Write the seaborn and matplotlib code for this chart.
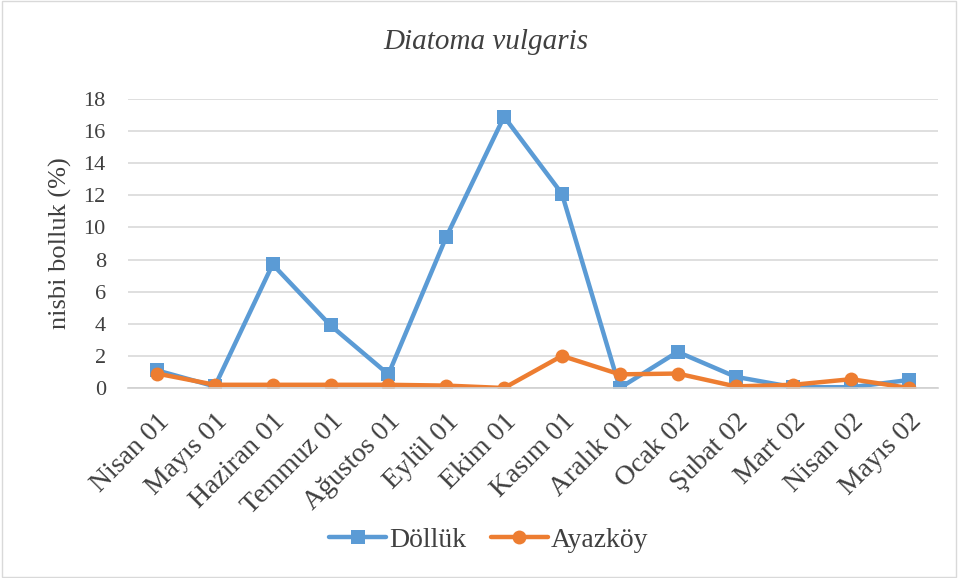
import pandas as pd
import matplotlib.pyplot as plt
import seaborn as sns

months = ['Nisan 01', 'Mayıs 01', 'Haziran 01', 'Temmuz 01', 'Ağustos 01', 'Eylül 01',
          'Ekim 01', 'Kasım 01', 'Aralık 01', 'Ocak 02', 'Şubat 02', 'Mart 02',
          'Nisan 02', 'Mayıs 02']
dollük = [1.1, 0.1, 7.7, 3.9, 0.85, 9.4, 16.9, 12.1, 0.0, 2.25, 0.7, 0.05, 0.05, 0.5]
ayazkoy = [0.9, 0.2, 0.2, 0.2, 0.2, 0.15, 0.0, 2.0, 0.85, 0.9, 0.1, 0.2, 0.55, 0.0]

sns.set_style('white')
plt.rcParams['font.family'] = ['Liberation Serif', 'DejaVu Serif']

df = pd.DataFrame({
    'ay': list(range(len(months))) * 2,
    'deger': dollük + ayazkoy,
    'istasyon': ['Döllük'] * len(months) + ['Ayazköy'] * len(months),
})

fig = plt.figure(figsize=(9.58, 5.78), dpi=100)
ax = fig.add_axes([128 / 958, 1 - 388 / 578, 810 / 958, 289 / 578])

palette = {'Döllük': '#5b9bd5', 'Ayazköy': '#ed7d31'}
sns.lineplot(data=df, x='ay', y='deger', hue='istasyon', style='istasyon',
             markers={'Döllük': 's', 'Ayazköy': 'o'}, dashes=False,
             palette=palette, linewidth=3.2, markersize=10, markeredgewidth=0,
             sort=False, ax=ax)

ax.set_xlim(-0.5, len(months) - 0.5)
ax.set_ylim(0, 18)
ax.set_yticks(range(0, 19, 2))
ax.set_xticks(range(len(months)))
ax.set_xticklabels(months, rotation=45, ha='right', rotation_mode='anchor')
ax.set_xticks([i - 0.5 for i in range(len(months) + 1)], minor=True)
ax.tick_params(axis='x', which='major', length=0, labelsize=20, colors='#404040', pad=15)
ax.tick_params(axis='x', which='minor', length=6, color='#d0d0d0', width=1)
ax.tick_params(axis='y', length=0, labelsize=16, colors='#404040', pad=16)
ax.grid(axis='y', color='#d9d9d9', linewidth=1.2)
for s in ['top', 'right', 'left']:
    ax.spines[s].set_visible(False)
ax.spines['bottom'].set_color('#d0d0d0')
ax.spines['bottom'].set_linewidth(1.2)

ax.set_xlabel('')
ax.set_ylabel('nisbi bolluk (%)', fontsize=19, color='#404040', labelpad=8)
fig.text(0.507, 1 - 42 / 578, 'Diatoma vulgaris', ha='center', va='center',
         fontsize=21, style='italic', color='#404040')

handles, labels = ax.get_legend_handles_labels()
fig.legend(handles, labels, loc='center', bbox_to_anchor=(0.51, 1 - 540 / 578),
           ncol=2, frameon=False, fontsize=20,
           handlelength=2.05, handletextpad=0.1, columnspacing=0.9, labelcolor='#404040')
ax.get_legend().remove()

border = plt.Rectangle((0.002, 0.002), 0.996, 0.996, transform=fig.transFigure,
                       fill=False, edgecolor='#d9d9d9', linewidth=1)
fig.patches.append(border)

fig.savefig('out.png', dpi=100)
